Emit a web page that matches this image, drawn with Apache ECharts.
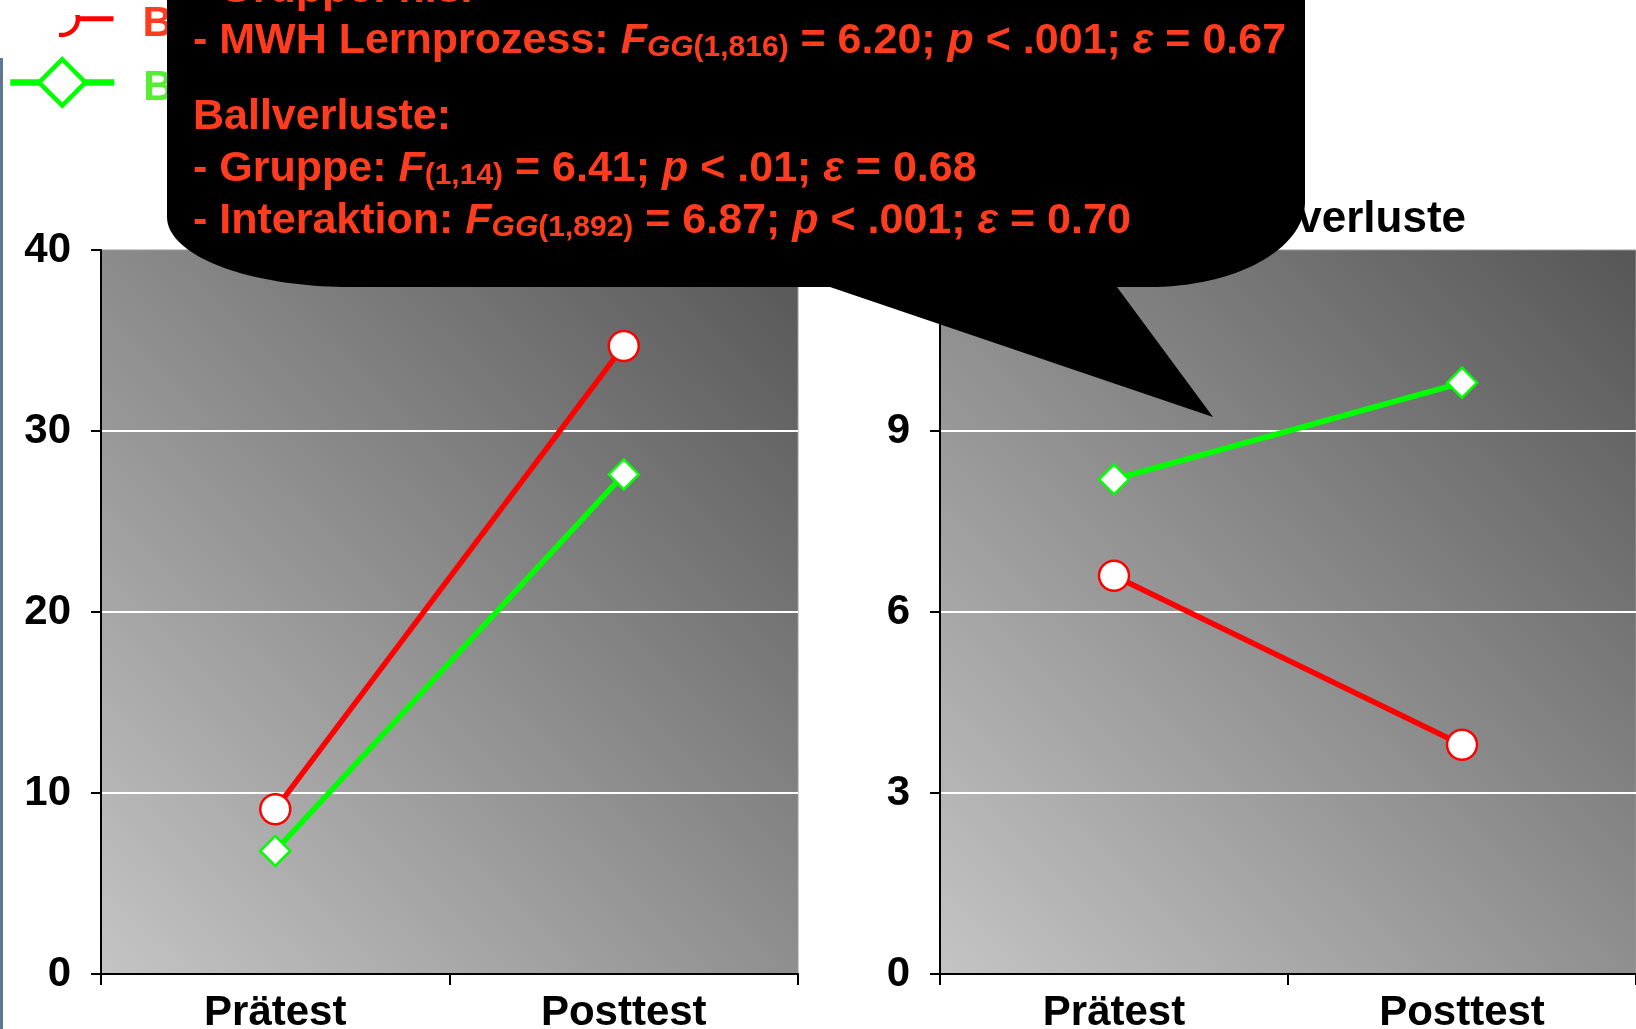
<!DOCTYPE html>
<html>
<head>
<meta charset="utf-8">
<title>Ballkontakte und Ballverluste</title>
<script src="https://cdn.jsdelivr.net/npm/echarts@6/dist/echarts.min.js"></script>
<style>
  html, body { margin: 0; padding: 0; background: #ffffff; }
  #chart { width: 1636px; height: 1029px; }
</style>
</head>
<body>
<div id="chart"></div>
<script>
// Test points on the shared x axis
const categories = ['Prätest', 'Posttest'];

// Group names (legend)
const groupRed = 'Blocktraining';
const groupGreen = 'Bewegungsvariation';

// Left panel: values per test point
const leftRed = [9.1, 34.7];
const leftGreen = [6.8, 27.6];

// Right panel: Ballverluste per test point
const rightRed = [6.6, 3.8];
const rightGreen = [8.2, 9.8];

// Value axis ticks
const leftTicks = [0, 10, 20, 30, 40];
const rightTicks = [0, 3, 6, 9, 12];

// Right panel title
const rightTitle = 'Ballverluste';

// Statistics shown in the speech bubble (rich-text tokens)
const statLines = [
  '{n|- Gruppe: n.s.}',
  '{n|- MWH Lernprozess: }{i|F}{si|GG}{s|(1,816)}{n| = 6.20; }{i|p}{n| < .001; }{i|ε}{n| = 0.67}',
  '{n|Ballverluste:}',
  '{n|- Gruppe: }{i|F}{s|(1,14)}{n| = 6.41; }{i|p}{n| < .01; }{i|ε}{n| = 0.68}',
  '{n|- Interaktion: }{i|F}{si|GG}{s|(1,892)}{n| = 6.87; }{i|p}{n| < .001; }{i|ε}{n| = 0.70}'
];
const statBaselines = [1, 52, 128, 180, 232];

const RED = '#ff0000';
const GREEN = '#00ff00';
const TEXT_RED = '#ff3c1e';
const FONT = 'Liberation Sans, Arial, Helvetica, sans-serif';

const chart = echarts.init(document.getElementById('chart'), null, { renderer: 'canvas' });

function plotFill() {
  return new echarts.graphic.LinearGradient(0, 1, 1, 0, [
    { offset: 0, color: '#c4c4c4' },
    { offset: 1, color: '#565656' }
  ]);
}

function valueAxis(gridIndex, ticks) {
  return {
    type: 'value',
    gridIndex: gridIndex,
    min: ticks[0],
    max: ticks[ticks.length - 1],
    interval: ticks[1] - ticks[0],
    axisLine: { show: true, lineStyle: { color: '#000', width: 2 } },
    axisTick: { show: true, length: 10, lineStyle: { color: '#000', width: 2 } },
    axisLabel: {
      margin: 30, color: '#000', fontSize: 42, fontWeight: 'bold', fontFamily: FONT
    },
    splitLine: {
      show: true, showMinLine: false, showMaxLine: false,
      lineStyle: { color: '#ffffff', width: 2 }
    }
  };
}

function categoryAxis(gridIndex) {
  return {
    type: 'category',
    gridIndex: gridIndex,
    data: categories,
    boundaryGap: true,
    axisLine: { show: true, lineStyle: { color: '#000', width: 2 } },
    axisTick: { show: true, length: 11, lineStyle: { color: '#000', width: 2 } },
    axisLabel: {
      margin: 18, color: '#000', fontSize: 42, fontWeight: 'bold', fontFamily: FONT
    },
    splitLine: { show: false }
  };
}

function lineSeries(name, data, axisIndex, color, symbol) {
  return {
    type: 'line',
    name: name,
    xAxisIndex: axisIndex,
    yAxisIndex: axisIndex,
    data: data,
    symbol: symbol,
    symbolSize: 30,
    showSymbol: true,
    lineStyle: { color: color, width: 5.5 },
    itemStyle: { color: '#ffffff', borderColor: color, borderWidth: 2.5 },
    emphasis: { disabled: true },
    z: 3
  };
}

function legendBlock(name, top, itemHeight, color, lineWidth) {
  return {
    data: [name],
    orient: 'vertical',
    left: 7,
    top: top,
    padding: 0,
    itemWidth: 104,
    itemHeight: itemHeight,
    itemGap: 0,
    selectedMode: false,
    lineStyle: { width: lineWidth },
    itemStyle: { borderWidth: 4.5 },
    formatter: '{t|{name}}',
    textStyle: {
      rich: {
        t: {
          padding: [11, 0, 0, 24],
          color: color, fontSize: 42, fontWeight: 'bold', fontFamily: FONT
        }
      }
    }
  };
}

// Outline of the speech bubble: rounded lower corners (elliptic) and a tail
function ellipseArc(cx, cy, rx, ry, a0, a1, steps) {
  const pts = [];
  for (let k = 0; k <= steps; k++) {
    const a = a0 + (a1 - a0) * k / steps;
    pts.push([cx + rx * Math.cos(a), cy + ry * Math.sin(a)]);
  }
  return pts;
}
const bubblePoints = [[167, -60]]
  .concat(ellipseArc(350, 217, 183, 70, Math.PI, Math.PI / 2, 40))
  .concat([[830, 287], [1213, 417], [1117, 287]])
  .concat(ellipseArc(1150, 202, 155, 85, Math.PI / 2, 0, 40))
  .concat([[1305, -60]]);

const LH = 44;
const richStyles = {
  n: { fontSize: 43, fontWeight: 'bold', fontFamily: FONT, fill: TEXT_RED, lineHeight: LH },
  i: { fontSize: 43, fontWeight: 'bold', fontStyle: 'italic', fontFamily: FONT, fill: TEXT_RED, lineHeight: LH },
  si: { fontSize: 30, fontWeight: 'bold', fontStyle: 'italic', fontFamily: FONT, fill: TEXT_RED, lineHeight: LH, verticalAlign: 'bottom' },
  s: { fontSize: 30, fontWeight: 'bold', fontFamily: FONT, fill: TEXT_RED, lineHeight: LH, verticalAlign: 'bottom' }
};

const bubbleText = statLines.map(function (line, k) {
  return {
    type: 'text',
    z: 101,
    silent: true,
    style: {
      text: line,
      x: 193,
      y: statBaselines[k] - 11,
      align: 'left',
      verticalAlign: 'middle',
      fontSize: 43,
      fontWeight: 'bold',
      fontFamily: FONT,
      fill: TEXT_RED,
      rich: richStyles
    }
  };
});

const option = {
  backgroundColor: '#ffffff',
  animation: false,
  grid: [
    { left: 101, top: 250, width: 697, height: 724, outerBoundsMode: 'none', containLabel: false,
      show: true, backgroundColor: plotFill(), borderColor: '#9a9a9a', borderWidth: 1 },
    { left: 940, top: 250, width: 696, height: 724, outerBoundsMode: 'none', containLabel: false,
      show: true, backgroundColor: plotFill(), borderColor: '#9a9a9a', borderWidth: 1 }
  ],
  xAxis: [categoryAxis(0), categoryAxis(1)],
  yAxis: [valueAxis(0, leftTicks), valueAxis(1, rightTicks)],
  legend: [
    legendBlock(groupRed, 0, 41, TEXT_RED, 5),
    legendBlock(groupGreen, 57, 58, '#55ee33', 6.5)
  ],
  series: [
    lineSeries(groupRed, leftRed, 0, RED, 'circle'),
    lineSeries(groupGreen, leftGreen, 0, GREEN, 'diamond'),
    lineSeries(groupRed, rightRed, 1, RED, 'circle'),
    lineSeries(groupGreen, rightGreen, 1, GREEN, 'diamond')
  ],
  graphic: [
    // slide frame line on the far left
    { type: 'rect', z: 20, silent: true, shape: { x: 0, y: 58, width: 3, height: 980 }, style: { fill: '#5f7796' } },
    // white panel over the upper-left corner of the legend
    { type: 'polygon', z: 40, silent: true,
      shape: { points: [[0, 0], [80, 0], [80, 15], [59, 15], [59, 44], [0, 44]] },
      style: { fill: '#ffffff' } },
    // right panel title
    { type: 'text', z: 30, silent: true,
      style: { text: rightTitle, x: 1466, y: 220, align: 'right', verticalAlign: 'middle',
        fontSize: 44, fontWeight: 'bold', fontFamily: FONT, fill: '#000' } },
    // speech bubble with the test statistics
    { type: 'polygon', z: 100, silent: true,
      shape: { points: bubblePoints },
      style: { fill: '#000000' } }
  ].concat(bubbleText)
};

chart.setOption(option);
</script>
</body>
</html>
